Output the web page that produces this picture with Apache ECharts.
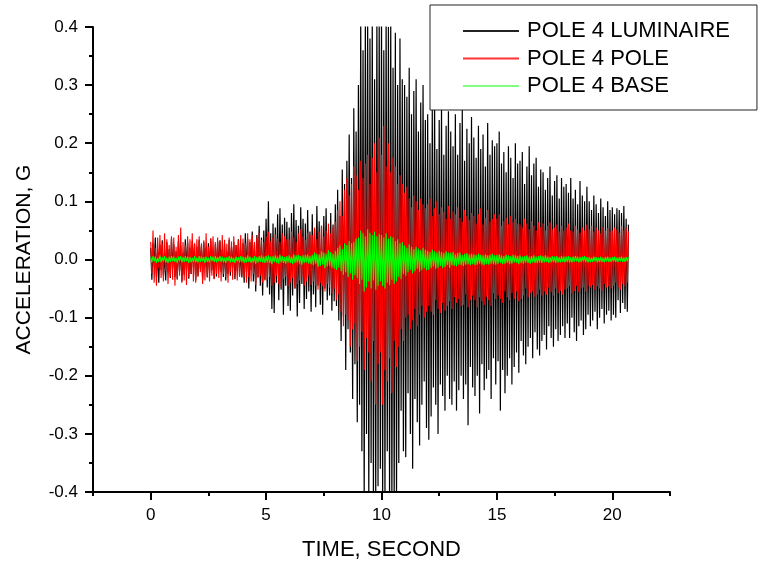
<!DOCTYPE html>
<html>
<head>
<meta charset="utf-8">
<script src="https://cdn.jsdelivr.net/npm/echarts@6/dist/echarts.min.js"></script>
<style>
  html, body { margin: 0; padding: 0; background: #fff; }
  #chart { width: 758px; height: 569px; }
</style>
</head>
<body>
<div id="chart"></div>
<script>
// Pole 4 acceleration records, sampled every 0.05 s from t = 0 s.
// Values are in thousandths of a G (milli-g), one row per second.
const SAMPLE_STEP_S = 0.05;

const seriesNames = ['POLE 4 LUMINAIRE', 'POLE 4 POLE', 'POLE 4 BASE'];

const luminaireMilliG = [
  20,-35,28,-12,38,-30,15,-40,25,-18,33,-28,10,-36,30,-22,18,-32,36,-15,
  26,-30,14,-34,31,-20,24,-38,12,-26,35,-18,29,-33,20,-25,32,-14,27,-36,
  22,-28,34,-16,25,-35,30,-12,20,-31,28,-24,36,-19,15,-33,26,-29,31,-17,
  33,-21,18,-30,27,-36,14,-25,34,-28,22,-15,30,-34,25,-20,35,-27,16,-31,
  28,-40,45,-22,35,-50,30,-18,48,-38,25,-55,42,-30,58,-45,38,-62,50,-35,
  70,-48,100,-60,45,-85,62,-92,55,-40,78,-70,88,-52,60,-95,72,-45,65,-80,
  55,-88,80,-62,95,-50,68,-98,58,-75,90,-42,70,-85,62,-68,85,-55,48,-90,
  78,-60,52,-82,92,-45,66,-78,58,-95,75,-50,88,-70,45,-62,80,-88,60,-72,
  95,-80,120,-105,75,-140,155,-98,130,-190,170,-120,215,-160,140,-240,260,-180,220,-280,
  300,-250,420,-330,360,-420,420,-300,420,-420,380,-350,420,-420,310,-420,420,-390,420,-360,
  420,-420,360,-420,420,-330,400,-420,420,-420,330,-420,390,-420,300,-350,380,-260,310,-330,
  300,-340,280,-230,330,-300,250,-360,290,-240,310,-280,220,-320,270,-250,300,-210,240,-290,
  250,-310,200,-270,260,-220,280,-250,190,-300,240,-215,265,-235,180,-260,230,-200,255,-240,
  220,-250,195,-210,250,-260,180,-225,235,-200,260,-240,170,-215,225,-285,200,-185,245,-220,
  210,-235,175,-200,230,-265,190,-180,215,-225,160,-205,235,-190,180,-240,205,-170,195,-215,
  200,-175,220,-260,165,-190,185,-230,150,-200,195,-170,175,-215,140,-185,200,-160,165,-195,
  170,-140,185,-165,130,-180,160,-150,195,-135,145,-170,165,-125,175,-155,125,-165,155,-140,
  150,-130,120,-155,140,-115,160,-135,110,-150,135,-120,145,-140,105,-130,140,-115,125,-135,
  130,-110,115,-135,140,-100,105,-125,120,-140,95,-115,135,-105,110,-130,100,-120,125,-95,
  100,-115,85,-105,110,-90,95,-120,80,-100,105,-85,90,-110,75,-95,100,-88,85,-105,
  90,-95,78,-100,88,-70,85,-92,80,-75,92,-85,70,-90,60
];

const poleMilliG = [
  30,-25,50,-40,20,-45,38,-15,42,-32,28,-38,45,-20,35,-42,25,-30,40,-35,
  38,-45,22,-35,42,-28,55,-40,30,-36,25,-44,40,-30,35,-25,45,-38,28,-40,
  35,-30,40,-22,28,-42,33,-36,45,-30,22,-38,36,-28,40,-34,30,-25,38,-32,
  30,-38,42,-25,34,-30,27,-40,38,-22,31,-35,40,-28,25,-36,33,-30,42,-26,
  36,-32,28,-40,45,-30,35,-38,42,-25,30,-44,38,-32,46,-28,34,-40,30,-36,
  40,-35,48,-30,32,-45,38,-40,44,-28,36,-42,30,-48,45,-34,40,-30,35,-46,
  35,-40,48,-32,38,-50,30,-42,45,-36,52,-30,40,-45,34,-38,46,-28,42,-44,
  42,-38,55,-45,35,-52,48,-40,58,-46,40,-55,50,-42,62,-48,45,-58,55,-50,
  65,-70,85,-60,100,-90,75,-115,120,-95,140,-105,110,-150,130,-120,160,-110,145,-175,
  120,-150,170,-125,140,-190,165,-135,180,-160,130,-210,175,-140,200,-250,150,-180,210,-160,
  180,-250,230,-190,160,-210,200,-170,150,-230,175,-140,160,-185,130,-150,145,-120,130,-140,
  115,-100,125,-95,105,-120,90,-105,110,-85,100,-115,85,-95,105,-80,95,-100,88,-90,
  95,-80,105,-90,75,-95,88,-70,100,-85,78,-92,90,-75,82,-88,70,-80,92,-72,
  70,-85,82,-65,78,-75,90,-68,72,-80,65,-78,85,-60,75,-82,68,-70,80,-62,
  75,-70,62,-82,78,-65,88,-72,60,-78,72,-64,85,-70,65,-80,70,-58,78,-68,
  70,-62,78,-68,58,-75,66,-55,72,-65,60,-70,75,-58,64,-68,70,-55,62,-72,
  60,-68,55,-62,70,-50,62,-65,52,-58,66,-55,58,-64,50,-60,64,-52,56,-62,
  62,-55,50,-60,58,-48,64,-56,52,-62,55,-50,60,-58,48,-54,58,-60,50,-52,
  55,-50,62,-46,50,-58,48,-54,58,-45,52,-56,46,-50,55,-48,50,-55,60,-45,
  52,-48,58,-44,48,-52,55,-46,50,-50,45,-54,56,-42,50,-48,54,-46,48,-50,
  50,-45,55,-40,52,-48,46,-52,58,-42,50,-46,55,-40,48
];

const baseMilliG = [
  4,-5,6,-3,5,-6,3,-4,7,-5,4,-3,6,-5,3,-6,5,-4,6,-3,
  5,-4,3,-6,5,-3,6,-5,4,-4,6,-3,5,-6,4,-5,3,-4,6,-5,
  3,-5,6,-4,5,-3,4,-6,5,-4,3,-5,6,-3,5,-4,6,-5,4,-3,
  6,-4,5,-5,3,-6,4,-3,6,-5,5,-4,3,-6,5,-3,4,-5,6,-4,
  5,-6,4,-5,7,-4,5,-6,3,-5,6,-7,4,-5,6,-4,7,-5,5,-6,
  6,-5,7,-6,5,-8,6,-4,7,-6,5,-7,8,-5,6,-6,4,-7,6,-5,
  7,-6,5,-8,9,-6,7,-5,8,-7,6,-9,7,-6,8,-5,9,-7,6,-8,
  8,-10,12,-7,10,-13,9,-11,14,-9,12,-15,10,-12,16,-11,13,-14,10,-16,
  15,-18,20,-14,24,-20,18,-26,28,-22,25,-30,32,-24,28,-35,30,-27,36,-32,
  38,-42,50,-35,45,-55,40,-48,52,-38,46,-50,42,-36,48,-52,40,-45,44,-38,
  42,-46,38,-50,45,-40,36,-44,40,-35,38,-42,32,-38,35,-30,28,-34,30,-25,
  24,-28,20,-22,26,-18,22,-24,18,-20,22,-16,19,-21,16,-18,20,-15,17,-19,
  15,-18,13,-15,17,-12,14,-16,12,-14,15,-11,13,-15,11,-13,14,-10,12,-14,
  12,-10,13,-11,9,-12,11,-9,12,-10,8,-11,10,-9,11,-8,9,-10,10,-8,
  9,-10,8,-9,10,-7,8,-9,7,-10,9,-8,7,-9,8,-7,10,-8,7,-9,
  8,-7,9,-6,7,-8,6,-7,8,-6,7,-8,6,-7,8,-5,7,-6,6,-8,
  7,-6,5,-7,6,-5,7,-6,5,-7,6,-5,7,-6,5,-6,6,-5,7,-6,
  6,-5,7,-4,5,-6,4,-5,6,-4,5,-6,6,-5,4,-5,6,-4,5,-5,
  5,-4,6,-5,4,-5,5,-4,6,-3,5,-5,4,-4,5,-3,6,-4,4,-5,
  4,-5,3,-4,5,-3,4,-5,3,-4,5,-4,3,-5,4,-3,5,-4,3,-4,
  4,-3,5,-4,3,-4,4,-3,5,-4,3,-4,4,-3,4
];

const xMajorTicks = [0, 5, 10, 15, 20];

// Turn a milli-g record into [time (s), acceleration (G)] pairs.
function toPoints(milliG) {
  return milliG.map((v, i) => [+(i * SAMPLE_STEP_S).toFixed(3), v / 1000]);
}

const FONT = '"Liberation Sans", Arial, Helvetica, sans-serif';

const chart = echarts.init(document.getElementById('chart'), null, { renderer: 'canvas' });

const axisLine = { show: true, onZero: false, lineStyle: { color: '#000', width: 2 } };

chart.setOption({
  animation: false,
  backgroundColor: '#fff',
  textStyle: { fontFamily: FONT },
  grid: { left: 93, right: 88, top: 27, bottom: 77, containLabel: false },
  legend: {
    orient: 'vertical',
    left: 430,
    top: 5,
    data: [
      { name: seriesNames[0], itemStyle: { color: '#222' } },
      { name: seriesNames[1], itemStyle: { color: '#ff3333' } },
      { name: seriesNames[2], itemStyle: { color: '#80ff80' } }
    ],
    icon: 'rect',
    itemWidth: 56,
    itemHeight: 2,
    itemGap: 5.5,
    padding: [15, 27, 13, 33],
    borderColor: '#222',
    borderWidth: 1,
    backgroundColor: '#fff',
    selectedMode: false,
    textStyle: { fontFamily: FONT, fontSize: 22, color: '#000', lineHeight: 22, padding: [0, 0, 0, 3] }
  },
  xAxis: [
    {
      type: 'value',
      min: -2.5,
      max: 22.5,
      interval: 2.5,
      name: 'TIME, SECOND',
      nameLocation: 'middle',
      nameGap: 47,
      nameTextStyle: { fontFamily: FONT, fontSize: 22, color: '#000' },
      axisLine: axisLine,
      axisTick: { show: true, inside: false, length: 8, lineStyle: { color: '#000', width: 2 }, customValues: xMajorTicks },
      axisLabel: { show: true, margin: 15, fontFamily: FONT, fontSize: 17, color: '#000', customValues: xMajorTicks },
      splitLine: { show: false }
    },
    {
      // short ticks every 2.5 s
      type: 'value',
      position: 'bottom',
      min: -2.5,
      max: 22.5,
      interval: 2.5,
      axisLine: { show: false, onZero: false },
      axisTick: { show: true, inside: false, length: 4, lineStyle: { color: '#000', width: 2 } },
      axisLabel: { show: false },
      splitLine: { show: false }
    }
  ],
  yAxis: {
    type: 'value',
    min: -0.4,
    max: 0.4,
    interval: 0.1,
    name: 'ACCELERATION, G',
    nameLocation: 'middle',
    nameGap: 58,
    nameTextStyle: { fontFamily: FONT, fontSize: 21, color: '#000' },
    axisLine: axisLine,
    axisTick: { show: true, inside: false, length: 8, lineStyle: { color: '#000', width: 2 } },
    minorTick: { show: true, splitNumber: 2, length: 4, lineStyle: { color: '#000', width: 2 } },
    axisLabel: {
      margin: 15,
      fontFamily: FONT,
      fontSize: 17,
      color: '#000',
      formatter: v => v.toFixed(1)
    },
    splitLine: { show: false },
    minorSplitLine: { show: false }
  },
  series: [
    {
      name: seriesNames[0], type: 'line', xAxisIndex: 0, data: toPoints(luminaireMilliG),
      showSymbol: false, symbol: 'none', clip: true,
      lineStyle: { color: '#000', width: 1.2 }, itemStyle: { color: '#000' }
    },
    {
      name: seriesNames[1], type: 'line', xAxisIndex: 0, data: toPoints(poleMilliG),
      showSymbol: false, symbol: 'none', clip: true,
      lineStyle: { color: '#ff0000', width: 1.1 }, itemStyle: { color: '#ff0000' }
    },
    {
      name: seriesNames[2], type: 'line', xAxisIndex: 0, data: toPoints(baseMilliG),
      showSymbol: false, symbol: 'none', clip: true,
      lineStyle: { color: '#00ff00', width: 1.1 }, itemStyle: { color: '#00ff00' }
    }
  ]
});
</script>
</body>
</html>
